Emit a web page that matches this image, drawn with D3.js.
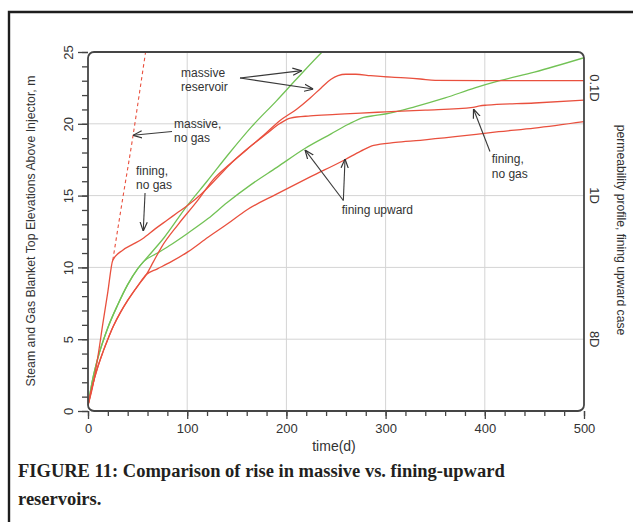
<!DOCTYPE html>
<html>
<head>
<meta charset="utf-8">
<script src="https://cdn.jsdelivr.net/npm/d3@7"></script>
<style>
  body { margin: 0; background: #fff; }
  text { font-family: "Liberation Sans", Arial, sans-serif; }
  text.caption { font-family: "Liberation Serif", "Times New Roman", serif; font-weight: bold; }
</style>
</head>
<body>
<svg id="chart" width="633" height="522"></svg>
<script>
// ---- data (time in days, elevation in m) ----
const xTicks = [0, 100, 200, 300, 400, 500];
const yTicks = [0, 5, 10, 15, 20, 25];
const permLabels = ["0.1D", "1D", "8D"];
const permPos = [22.5, 15, 5];   // where the permeability labels sit on the elevation scale

// massive reservoir, no gas (dashed, leaves the shared early segment at ~25 d)
const massiveNoGas = [[25, 10.5], [35, 14.8], [45, 19.0], [52, 22.2], [58.5, 25.2]];
// fining upward, no gas
const finingNoGas = [[0, 0.4], [5, 1.8], [10, 3.8], [15, 6.1], [20, 8.3], [25, 10.5], [35, 11.2],
  [45, 11.6], [55, 12.0], [68, 12.7], [80, 13.3], [90, 13.8], [100, 14.3], [114, 15.1], [131, 16.3],
  [145, 17.3], [165, 18.5], [180, 19.3], [193, 20.0], [204, 20.4], [224, 20.55], [250, 20.65],
  [275, 20.75], [300, 20.83], [340, 20.95], [388, 21.15], [395, 21.25], [402, 21.3], [450, 21.45], [500, 21.65]];
// massive reservoir, with gas (red)
const massiveRed = [[0, 0.4], [5, 1.9], [10, 3.1], [15, 4.1], [20, 5.0], [25.5, 5.9], [33, 6.9],
  [40, 7.7], [50, 8.7], [58.8, 9.5], [66, 10.4], [74, 11.4], [91, 13.0], [111, 14.7], [126, 16.1],
  [143, 17.2], [160, 18.2], [177, 19.2], [193, 20.2], [210, 21.0], [224, 21.8], [235, 22.5],
  [245, 23.1], [252, 23.35], [260, 23.45], [270, 23.45], [285, 23.35], [298, 23.28], [320, 23.2],
  [335, 23.12], [350, 23.02], [400, 23.0], [450, 23.0], [500, 23.0]];
// fining upward, with gas (red)
const finingRed = [[0, 0.4], [5, 1.9], [10, 3.1], [15, 4.1], [20, 5.0], [25.5, 5.9], [33, 6.9],
  [40, 7.7], [50, 8.7], [58.8, 9.5], [70, 9.9], [84, 10.4], [101, 11.1], [121, 12.1], [140, 13.0],
  [160, 14.0], [190, 15.1], [224, 16.3], [259, 17.5], [275, 18.1], [288, 18.5], [310, 18.7],
  [335, 18.85], [370, 19.1], [414, 19.45], [450, 19.7], [500, 20.15]];
// massive reservoir (green)
const massiveGreen = [[0, 0.4], [5, 2.3], [10, 3.7], [20, 5.8], [30, 7.4], [40, 8.8], [50, 9.9],
  [56, 10.4], [77, 12.1], [100, 14.3], [120, 16.0], [143, 18.0], [165, 19.8], [190, 21.6],
  [210, 23.1], [236, 25.0], [245, 25.6]];
// fining upward (green)
const finingGreen = [[0, 0.4], [5, 2.3], [10, 3.7], [20, 5.8], [30, 7.4], [40, 8.8], [50, 9.9],
  [56, 10.4], [70, 11.0], [84, 11.6], [101, 12.4], [121, 13.4], [140, 14.5], [165, 15.8],
  [190, 16.95], [219, 18.3], [245, 19.3], [262, 19.95], [278, 20.45], [290, 20.58], [301, 20.7],
  [330, 21.2], [360, 21.8], [390, 22.5], [415, 23.0], [450, 23.6], [500, 24.6]];

// annotation text (t, elevation, lines) and arrows ([from], [to])
const notes = [
  { t: 93.8, v: 23.29, lines: ["massive", "reservoir"] },
  { t: 86.7, v: 19.71, lines: ["massive,", "no gas"] },
  { t: 48.4, v: 16.45, lines: ["fining,", "no gas"] },
  { t: 255.7, v: 13.72, lines: ["fining upward"] },
  { t: 407, v: 17.27, lines: ["fining,", "no gas"] }
];
const arrows = [
  [[153.2, 23.19], [215.4, 23.7]],
  [[153.2, 23.19], [227.1, 22.42]],
  [[84.7, 19.46], [45.4, 19.2]],
  [[57.5, 15.18], [55.7, 12.53]],
  [[257.4, 14.66], [218.8, 18.18]],
  [[257.4, 14.66], [259.1, 17.55]],
  [[405.2, 18.07], [388.6, 21.03]]
];

const red = "#e9503e";
const green = "#72c255";

let svg = d3.select("#chart");

let x = d3.scaleLinear().domain([0, 500]).range([88, 584]);
let y = d3.scaleLinear().domain([0, 25]).range([411, 52]);

// outer figure border (top + left only)
svg.append("path")
  .attr("d", "M9,522V12H633")
  .attr("fill", "none")
  .attr("stroke", "#1e1e1e")
  .attr("stroke-width", 2.4);

// grid
let grid = svg.append("g").attr("stroke", "#d4d4d4").attr("stroke-width", 1);
grid.selectAll(".gx").data(xTicks.slice(1, -1)).enter().append("line")
  .attr("x1", d => x(d)).attr("x2", d => x(d))
  .attr("y1", y(0)).attr("y2", y(25));
grid.selectAll(".gy").data(yTicks.slice(1, -1)).enter().append("line")
  .attr("x1", x(0)).attr("x2", x(500))
  .attr("y1", d => y(d)).attr("y2", d => y(d));

// axes: minor + major ticks
function styleAxis(g) {
  g.select(".domain").remove();
  g.selectAll("line").attr("stroke", "#444").attr("stroke-width", 1.3);
}
svg.append("g").attr("transform", "translate(0," + y(0) + ")")
  .call(d3.axisBottom(x).tickValues(d3.range(0, 501, 20)).tickSize(5).tickFormat(""))
  .call(styleAxis);
let xAxis = svg.append("g").attr("transform", "translate(0," + y(0) + ")")
  .call(d3.axisBottom(x).tickValues(xTicks).tickSize(8).tickPadding(5))
  .call(styleAxis);
xAxis.selectAll("text")
  .attr("font-size", 13).attr("font-family", "Liberation Sans, Arial, sans-serif")
  .attr("fill", "#333");

svg.append("g").attr("transform", "translate(" + x(0) + ",0)")
  .call(d3.axisLeft(y).tickValues(d3.range(0, 26, 1)).tickSize(6).tickFormat(""))
  .call(styleAxis);
let yAxis = svg.append("g").attr("transform", "translate(" + x(0) + ",0)")
  .call(d3.axisLeft(y).tickValues(yTicks).tickSize(10))
  .call(styleAxis);
yAxis.selectAll("text")
  .attr("transform", "rotate(-90)")
  .attr("x", 0).attr("y", -15.5).attr("dy", null)
  .attr("text-anchor", "middle")
  .attr("font-size", 13).attr("font-family", "Liberation Sans, Arial, sans-serif")
  .attr("fill", "#333");

// right-hand permeability labels
svg.append("g").selectAll("text").data(permLabels).enter().append("text")
  .attr("transform", (d, i) => "translate(589.5," + y(permPos[i]) + ") rotate(90)")
  .attr("text-anchor", "middle")
  .attr("font-size", 13)
  .attr("fill", "#333")
  .text(d => d);

// axis titles
svg.append("text")
  .attr("transform", "translate(35,231) rotate(-90)")
  .attr("text-anchor", "middle").attr("font-size", 12.3).attr("fill", "#333")
  .text("Steam and Gas Blanket Top Elevations Above Injector, m");
svg.append("text")
  .attr("transform", "translate(617,230) rotate(90)")
  .attr("text-anchor", "middle").attr("font-size", 12.2).attr("fill", "#333")
  .text("permeability profile, fining upward case");
svg.append("text")
  .attr("x", 334).attr("y", 451)
  .attr("text-anchor", "middle").attr("font-size", 14).attr("fill", "#333")
  .text("time(d)");

// curves
svg.append("clipPath").attr("id", "plotClip").append("rect")
  .attr("x", x(0)).attr("y", y(25)).attr("width", x(500) - x(0)).attr("height", y(0) - y(25));
let line = d3.line().x(d => x(d[0])).y(d => y(d[1])).curve(d3.curveMonotoneX);
let curves = svg.append("g").attr("clip-path", "url(#plotClip)").attr("fill", "none")
  .attr("stroke-width", 1.3).attr("stroke-linejoin", "round");
curves.append("path").datum(massiveGreen).attr("d", line).attr("stroke", green);
curves.append("path").datum(finingGreen).attr("d", line).attr("stroke", green);
curves.append("path").datum(massiveRed).attr("d", line).attr("stroke", red);
curves.append("path").datum(finingRed).attr("d", line).attr("stroke", red);
curves.append("path").datum(finingNoGas).attr("d", line).attr("stroke", red);
curves.append("path").datum(massiveNoGas).attr("d", line).attr("stroke", red)
  .attr("stroke-dasharray", "3.5,3").attr("stroke-width", 1.1);

// plot frame
svg.append("rect")
  .attr("x", x(0)).attr("y", y(25)).attr("width", x(500) - x(0)).attr("height", y(0) - y(25))
  .attr("rx", 6).attr("fill", "none").attr("stroke", "#454545").attr("stroke-width", 1.8);

// annotations
svg.append("defs").append("marker")
  .attr("id", "arr").attr("viewBox", "0 0 10 10").attr("refX", 10).attr("refY", 5)
  .attr("markerWidth", 9).attr("markerHeight", 9).attr("orient", "auto")
  .attr("markerUnits", "userSpaceOnUse")
  .append("path").attr("d", "M0,1L10,5L0,9").attr("fill", "none")
  .attr("stroke", "#333").attr("stroke-width", 1.3);

svg.append("g").selectAll("line").data(arrows).enter().append("line")
  .attr("x1", d => x(d[0][0])).attr("y1", d => y(d[0][1]))
  .attr("x2", d => x(d[1][0])).attr("y2", d => y(d[1][1]))
  .attr("stroke", "#3a3a3a").attr("stroke-width", 1.1)
  .attr("marker-end", "url(#arr)");

let noteText = svg.append("g").selectAll("text").data(notes).enter().append("text")
  .attr("x", d => x(d.t)).attr("y", d => y(d.v))
  .attr("font-size", 12).attr("fill", "#333");
noteText.selectAll("tspan").data(d => d.lines.map(l => ({ l: l, t: d.t }))).enter().append("tspan")
  .attr("x", d => x(d.t)).attr("dy", (d, i) => i === 0 ? 0 : 14.5)
  .text(d => d.l);

// caption
let cap = svg.append("text").attr("class", "caption")
  .attr("font-size", 18.5).attr("fill", "#231f20");
cap.append("tspan").attr("x", 18).attr("y", 477)
  .text("FIGURE 11: Comparison of rise in massive vs. fining-upward");
cap.append("tspan").attr("x", 18).attr("y", 505).text("reservoirs.");
</script>
</body>
</html>
